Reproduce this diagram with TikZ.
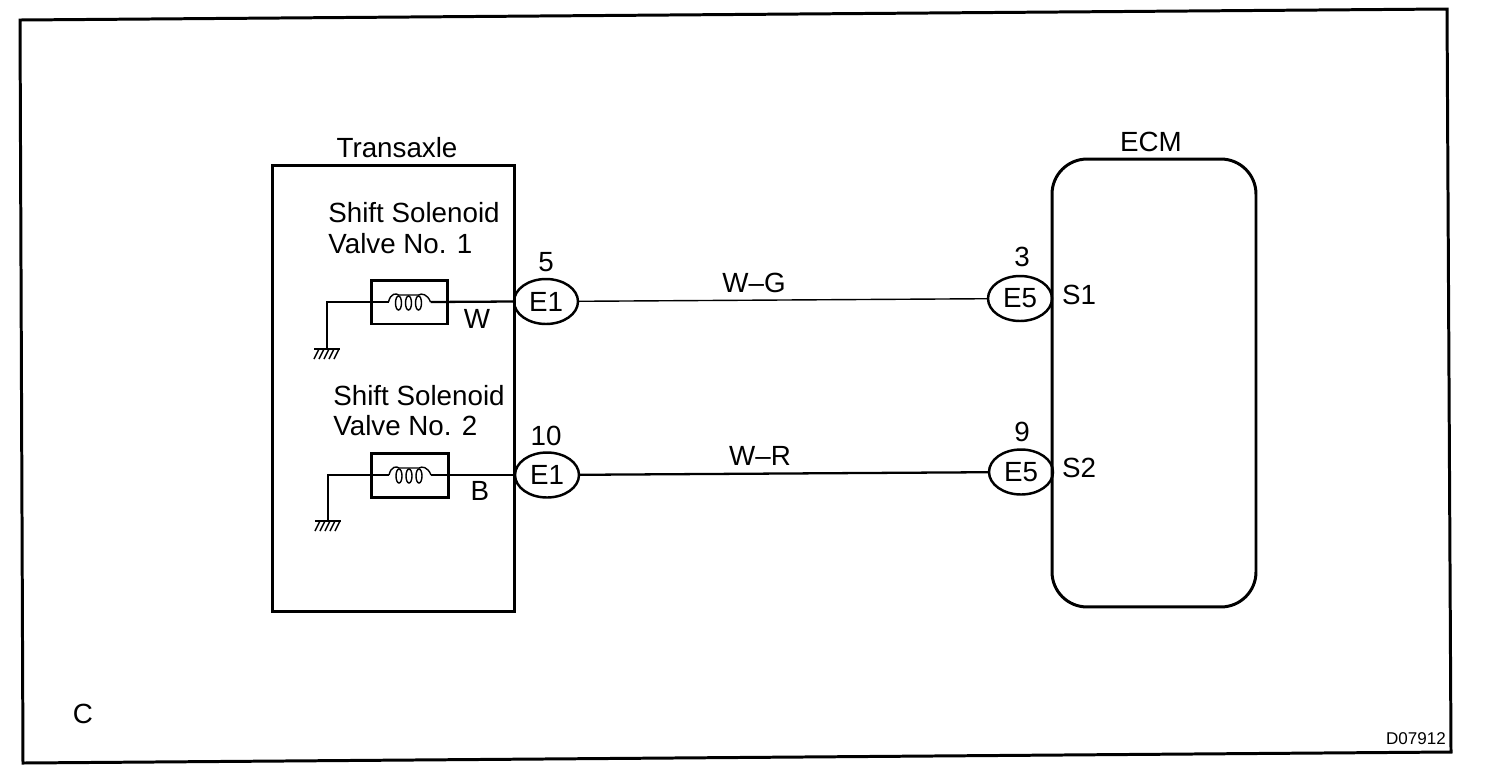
\documentclass[tikz,border=0pt]{standalone}
\usepackage{fontspec}
\setmainfont{Liberation Sans}
\usetikzlibrary{shapes.geometric}
\tikzset{
    box/.style={draw,line width=1.7pt,inner sep=0pt},
    solbox/.style={box,minimum width=1.53cm,minimum height=0.88cm},
    conn/.style={draw,fill=white,ellipse,line width=1.4pt,inner sep=0pt,minimum width=1.28cm,minimum height=0.9cm,font=\fontsize{15.8}{18}\selectfont},
    lbl/.style={inner sep=0pt,font=\fontsize{15.8}{18}\selectfont},
    wire/.style={line width=0.8pt},
    fatwire/.style={line width=1.3pt},
    pics/solcoil/.style={code={
        \coordinate (-a) at (-21,0);
        \coordinate (-b) at (21,0);
        \draw[wire] (-21,0) .. controls (-19,-9) and (-13,-9) .. (-11,-7) -- (9,-7) .. controls (12,-9) and (18,-8) .. (21,0);
        \foreach \k in {-11,-1,9}
            \draw[wire] (\k,1) ellipse [x radius=3,y radius=7];
    }},
    pics/earth/.style={code={
        \draw[wire] (-13,0)--(13,0);
        \foreach \k in {-8,-3,2,7,12}
            \draw[wire] (\k,0)--(\k-5,10);
    }}
}
\begin{document}
\begin{tikzpicture}[x=0.02cm,y=-0.02cm]
    \useasboundingbox (0,0) rectangle (1504,782);
    \draw[line width=1.7pt] (20,20)--(1447,9)--(1451,752)--(23,763)--cycle;
    % connectors first, the boxes run over their ends
    \node[conn] (eia) at (546,301.5) {E1};
    \node[conn] (eib) at (547,475) {E1};
    \node[conn] (eva) at (1020,298.5) {E5};
    \node[conn] (evb) at (1021,472) {E5};
    % boxes
    \node[box,minimum width=4.86cm,minimum height=8.94cm] (trans) at (393.5,388.5) {};
    \node[box,rounded corners=0.7cm,minimum width=4.08cm,minimum height=8.96cm] (ecm) at (1154,383) {};
    \node[lbl] (translbl) at (397,148) {Transaxle};
    \node[lbl] (ecmlbl) at (1151,142) {ECM};
    % solenoids
    \node[solbox] (sola) at (409.5,302) {};
    \node[solbox] (solb) at (410,475) {};
    \pic (coila) at (sola) {solcoil};
    \pic (coilb) at (solb) {solcoil};
    \node[lbl,anchor=west] (namea) at (328,213) {Shift Solenoid};
    \node[lbl,anchor=west] (valvea) at (328,244) {Valve No. 1};
    \node[lbl,anchor=west] (nameb) at (333,396) {Shift Solenoid};
    \node[lbl,anchor=west] (valveb) at (333,426) {Valve No. 2};
    % earth
    \coordinate (gnda) at (327,349);
    \coordinate (gndb) at (328,521);
    \pic at (gnda) {earth};
    \pic at (gndb) {earth};
    \node[lbl] (pina) at (546,262) {5};
    \node[lbl] (pinb) at (546,436) {10};
    \node[lbl] (pinc) at (1022,257) {3};
    \node[lbl] (pind) at (1022,432) {9};
    % wires
    \draw[wire] (gnda) |- (coila-a);
    \draw[fatwire] (coila-b) -- (eia.west);
    \draw[fatwire] (gndb) |- (coilb-a);
    \draw[wire] (coilb-b) -- (eib.west);
    \draw[wire] (eia) -- (eva);
    \draw[fatwire] (eib) -- (evb);
    \node[lbl] (wga) at (754,283) {W–G};
    \node[lbl] (wrb) at (760,456) {W–R};
    \node[lbl] (wlbl) at (477,319) {W};
    \node[lbl] (blbl) at (480,491) {B};
    \node[lbl] (sia) at (1079,295) {S1};
    \node[lbl] (sib) at (1079,468) {S2};
    \node[lbl] (clbl) at (83,714) {C};
    \node[inner sep=0pt,font=\fontsize{9.7}{11}\selectfont] (code) at (1416,739) {D07912};
\end{tikzpicture}
\end{document}
